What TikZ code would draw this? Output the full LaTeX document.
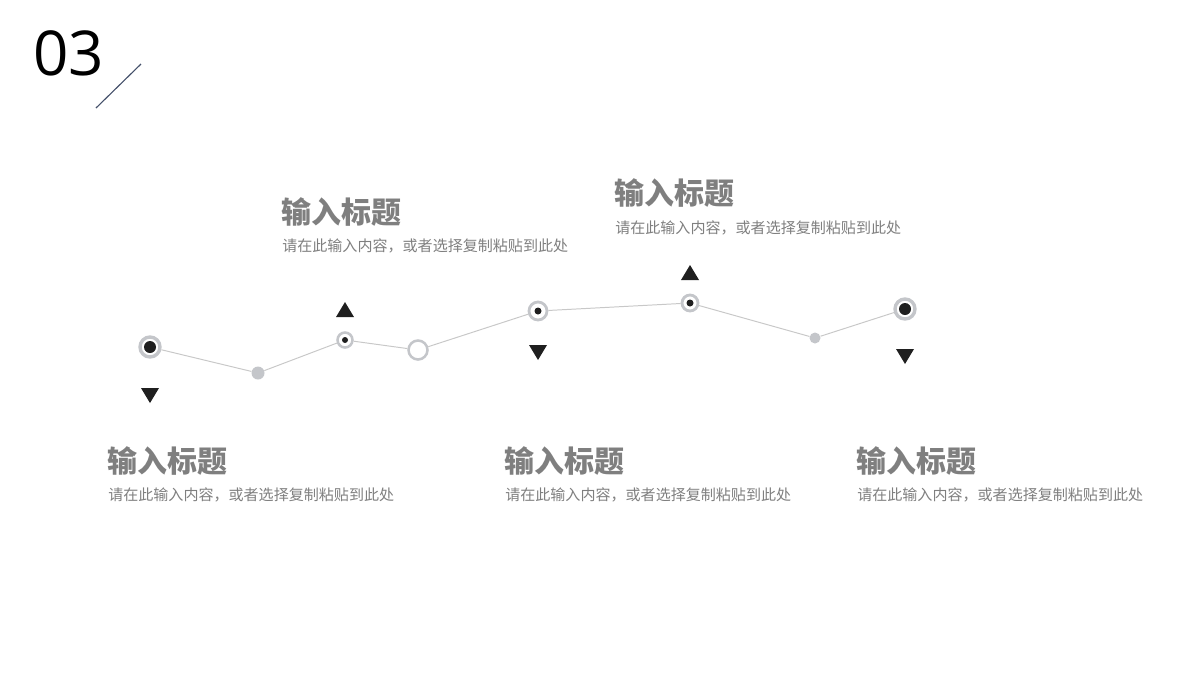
\documentclass[tikz,border=0pt]{standalone}
\usepackage{fontspec}
\newfontfamily\cjk{Noto Sans CJK SC}
\newfontfamily\numfont{Open Sans}
\definecolor{txtgray}{HTML}{7F7F7F}
\definecolor{linegray}{HTML}{C8C8C8}
\definecolor{ringgray}{HTML}{C4C6CA}
\definecolor{slash}{HTML}{44506A}
\begin{document}
\begin{tikzpicture}[x=0.025cm,y=-0.025cm,
  title/.style={anchor=west,inner sep=0pt,text=txtgray,font=\cjk\bfseries\fontsize{21.3}{24}\selectfont},
  sub/.style={anchor=west,inner sep=0pt,text=txtgray,font=\cjk\fontsize{10.7}{13}\selectfont},
  ring/.style={circle,fill=white,draw=ringgray,line width=#1,inner sep=0pt},
  blackdot/.style={circle,fill=black!88,inner sep=0pt,minimum size=#1},
  graydot/.style={circle,fill=ringgray,inner sep=0pt,minimum size=#1},
  hollow/.style={circle,draw=ringgray,line width=1.8pt,fill=white,inner sep=0pt,minimum size=#1},
  conn/.style={draw=linegray,line width=0.7pt},
  tri/.style={fill=black!88}
]
\useasboundingbox (0,0) rectangle (1200,680);
\node[anchor=base west,inner sep=0pt,font=\numfont\fontsize{44}{50}\selectfont] (num) at (33,75) {03};
\coordinate (s1) at (96,108);
\coordinate (s2) at (141,64);
\draw[slash,line width=0.8pt] (s1) -- (s2);

% points
\node[ring=2.4pt,minimum size=20*0.7113pt] (p1) at (150,347) {};
\node[blackdot=12*0.7113pt] (d1) at (150,347) {};
\node[graydot=13*0.7113pt] (p2) at (258,373) {};
\node[ring=1.8pt,minimum size=15*0.7113pt] (p3) at (345,340) {};
\node[blackdot=6*0.7113pt] (d3) at (345,340) {};
\node[hollow=19*0.7113pt] (p4) at (418,350) {};
\node[ring=2pt,minimum size=18*0.7113pt] (p5) at (538,311) {};
\node[blackdot=7*0.7113pt] (d5) at (538,311) {};
\node[ring=2pt,minimum size=16*0.7113pt] (p6) at (690,303) {};
\node[blackdot=7*0.7113pt] (d6) at (690,303) {};
\node[graydot=11*0.7113pt] (p7) at (815,338) {};
\node[ring=2.4pt,minimum size=20*0.7113pt] (p8) at (905,309) {};
\node[blackdot=12*0.7113pt] (d8) at (905,309) {};

\draw[conn] (p1) -- (p2);
\draw[conn] (p2) -- (p3);
\draw[conn] (p3) -- (p4);
\draw[conn] (p4) -- (p5);
\draw[conn] (p5) -- (p6);
\draw[conn] (p6) -- (p7);
\draw[conn] (p7) -- (p8);

% triangles
\fill[tri] (141,388) -- (159,388) -- (150,403) -- cycle;
\fill[tri] (336,317) -- (354,317) -- (345,302) -- cycle;
\fill[tri] (529,345) -- (547,345) -- (538,360) -- cycle;
\fill[tri] (681,280) -- (699,280) -- (690,265) -- cycle;
\fill[tri] (896,349) -- (914,349) -- (905,364) -- cycle;

% texts
\node[title] (t1) at (107,461) {输入标题};
\node[sub] (b1) at (108,495) {请在此输入内容，或者选择复制粘贴到此处};
\node[title] (t2) at (281,212) {输入标题};
\node[sub] (b2) at (282,246) {请在此输入内容，或者选择复制粘贴到此处};
\node[title] (t3) at (504,461) {输入标题};
\node[sub] (b3) at (505,495) {请在此输入内容，或者选择复制粘贴到此处};
\node[title] (t4) at (614,193) {输入标题};
\node[sub] (b4) at (615,228) {请在此输入内容，或者选择复制粘贴到此处};
\node[title] (t5) at (856,461) {输入标题};
\node[sub] (b5) at (857,495) {请在此输入内容，或者选择复制粘贴到此处};
\end{tikzpicture}
\end{document}
